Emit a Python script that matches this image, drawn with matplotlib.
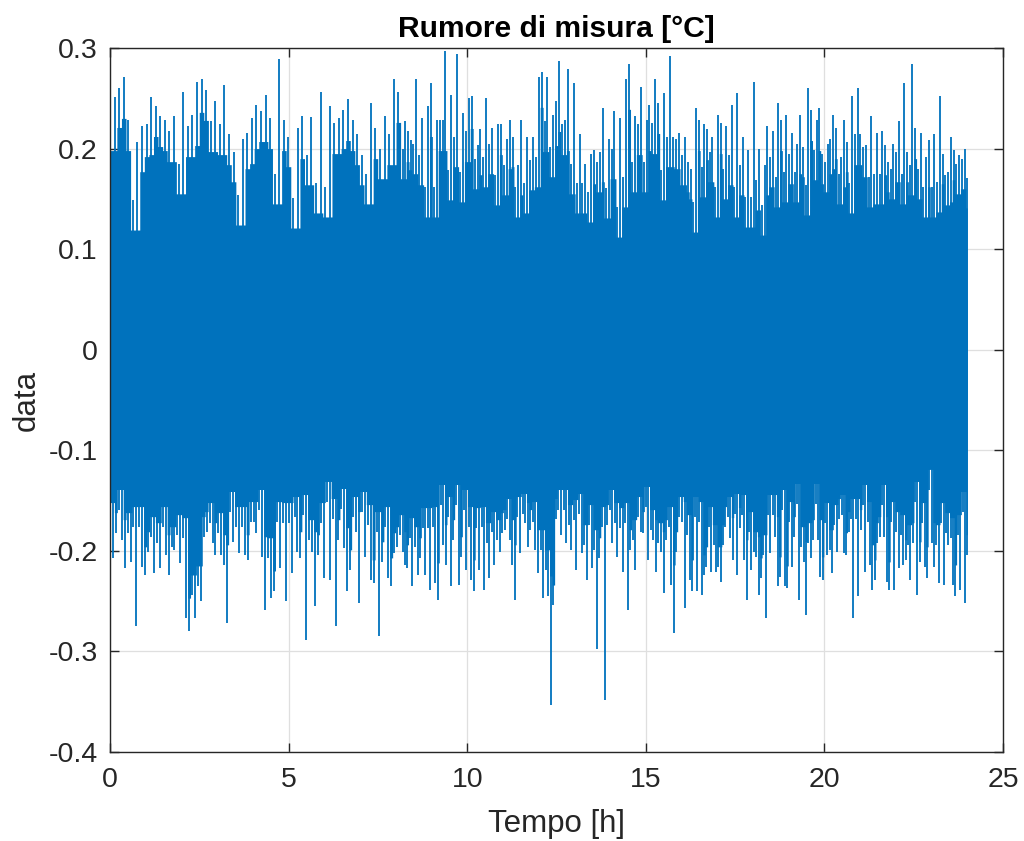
import numpy as np
import pandas as pd
import matplotlib
matplotlib.use("Agg")
import matplotlib.pyplot as plt

# Noise peaks, split into three time windows [h]
SEGMENTS = [(0.0, 8.2), (8.25, 16.0), (16.1, 24.0)]

upper_a = [0.228, 0.251, 0.260, 0.271, 0.228, 0.149, 0.207, 0.222, 0.224, 0.251, 0.242, 0.232, 0.228, 0.217,
           0.232, 0.185, 0.256, 0.222, 0.233, 0.266, 0.269, 0.258, 0.227, 0.247, 0.224, 0.263, 0.214, 0.197,
           0.154, 0.210, 0.215, 0.230, 0.243, 0.237, 0.253, 0.230, 0.175, 0.289, 0.228, 0.212, 0.151, 0.220,
           0.232, 0.194, 0.231, 0.166, 0.256, 0.162, 0.242, 0.225, 0.230, 0.238, 0.249, 0.228, 0.214, 0.194,
           0.175, 0.245, 0.220, 0.200, 0.232, 0.214, 0.269, 0.256, 0.200]
upper_b = [0.227, 0.217, 0.209, 0.205, 0.269, 0.194, 0.230, 0.162, 0.242, 0.265, 0.162, 0.228, 0.228, 0.228,
           0.297, 0.179, 0.253, 0.212, 0.294, 0.177, 0.235, 0.217, 0.250, 0.252, 0.190, 0.204, 0.219, 0.192,
           0.250, 0.205, 0.220, 0.174, 0.224, 0.224, 0.184, 0.210, 0.228, 0.212, 0.162, 0.184, 0.228, 0.166,
           0.212, 0.189, 0.212, 0.192, 0.271, 0.276, 0.227, 0.271, 0.202, 0.233, 0.247, 0.287, 0.224, 0.228,
           0.279, 0.185, 0.265, 0.166, 0.214, 0.166, 0.185, 0.157, 0.195, 0.199, 0.187, 0.197, 0.240, 0.161,
           0.210, 0.200, 0.237, 0.142, 0.230, 0.172, 0.269, 0.284, 0.187, 0.232, 0.224, 0.261, 0.187, 0.228,
           0.243, 0.225, 0.269, 0.245, 0.179, 0.255, 0.212, 0.292, 0.212, 0.210, 0.215, 0.194]
upper_c = [0.212, 0.187, 0.180, 0.147, 0.240, 0.228, 0.182, 0.224, 0.219, 0.197, 0.212, 0.162, 0.233, 0.225,
           0.180, 0.222, 0.194, 0.243, 0.162, 0.255, 0.184, 0.212, 0.152, 0.199, 0.152, 0.266, 0.169, 0.200,
           0.144, 0.184, 0.222, 0.192, 0.217, 0.172, 0.245, 0.228, 0.177, 0.233, 0.195, 0.215, 0.177, 0.205,
           0.233, 0.202, 0.164, 0.260, 0.238, 0.199, 0.228, 0.240, 0.195, 0.187, 0.205, 0.210, 0.233, 0.220,
           0.175, 0.192, 0.228, 0.207, 0.166, 0.252, 0.214, 0.260, 0.214, 0.202, 0.204, 0.172, 0.232, 0.175,
           0.215, 0.175, 0.217, 0.204, 0.187, 0.180, 0.205, 0.197, 0.227, 0.175, 0.265, 0.197, 0.184, 0.284,
           0.220, 0.180, 0.215, 0.162, 0.192, 0.209, 0.162, 0.214, 0.167, 0.252, 0.195, 0.174, 0.177, 0.212,
           0.199, 0.185, 0.194, 0.190, 0.200, 0.171]

lower_a = [-0.172, -0.207, -0.182, -0.159, -0.189, -0.217, -0.182, -0.211, -0.176, -0.275, -0.176, -0.216,
           -0.224, -0.201, -0.186, -0.222, -0.192, -0.217, -0.176, -0.204, -0.224, -0.196, -0.199, -0.184,
           -0.212, -0.187, -0.267, -0.280, -0.244, -0.267, -0.235, -0.250, -0.186, -0.181, -0.172, -0.192,
           -0.204, -0.182, -0.204, -0.214, -0.272, -0.161, -0.191, -0.176, -0.202, -0.176, -0.204, -0.209,
           -0.171, -0.171, -0.182, -0.159, -0.206, -0.259, -0.207, -0.247, -0.240, -0.171, -0.217, -0.172,
           -0.250, -0.172, -0.222, -0.166, -0.201, -0.207, -0.164, -0.289, -0.189, -0.201, -0.255, -0.204,
           -0.172, -0.227, -0.151, -0.229, -0.168, -0.275, -0.189, -0.158, -0.197, -0.240, -0.219, -0.166,
           -0.181, -0.252, -0.161, -0.206, -0.174, -0.229, -0.232, -0.181, -0.285, -0.211, -0.176, -0.227,
           -0.235, -0.202, -0.196, -0.184, -0.201]
lower_b = [-0.214, -0.217, -0.187, -0.235, -0.196, -0.224, -0.207, -0.177, -0.224, -0.177, -0.239, -0.176,
           -0.232, -0.249, -0.154, -0.194, -0.214, -0.166, -0.235, -0.189, -0.154, -0.234, -0.206, -0.159,
           -0.219, -0.176, -0.229, -0.240, -0.177, -0.219, -0.176, -0.239, -0.192, -0.227, -0.181, -0.214,
           -0.189, -0.201, -0.182, -0.179, -0.168, -0.189, -0.214, -0.249, -0.166, -0.202, -0.163, -0.172,
           -0.196, -0.179, -0.171, -0.199, -0.222, -0.199, -0.247, -0.219, -0.245, -0.353, -0.254, -0.168,
           -0.159, -0.184, -0.159, -0.192, -0.174, -0.199, -0.169, -0.219, -0.163, -0.202, -0.194, -0.229,
           -0.174, -0.217, -0.199, -0.298, -0.207, -0.176, -0.348, -0.174, -0.159, -0.192, -0.172, -0.206,
           -0.177, -0.221, -0.172, -0.259, -0.199, -0.189, -0.219, -0.166, -0.181, -0.182, -0.156, -0.209,
           -0.179, -0.189, -0.221, -0.192, -0.201, -0.242, -0.189, -0.176, -0.234, -0.282, -0.201, -0.166,
           -0.171]
lower_c = [-0.257, -0.184, -0.229, -0.240, -0.166, -0.240, -0.171, -0.244, -0.224, -0.216, -0.176, -0.221,
           -0.194, -0.221, -0.216, -0.231, -0.194, -0.176, -0.166, -0.187, -0.209, -0.163, -0.224, -0.177,
           -0.164, -0.209, -0.249, -0.181, -0.219, -0.201, -0.206, -0.244, -0.227, -0.204, -0.267, -0.164,
           -0.202, -0.164, -0.186, -0.235, -0.226, -0.159, -0.235, -0.237, -0.171, -0.216, -0.186, -0.153,
           -0.249, -0.196, -0.211, -0.264, -0.192, -0.207, -0.189, -0.153, -0.189, -0.226, -0.229, -0.172,
           -0.204, -0.199, -0.222, -0.174, -0.201, -0.168, -0.164, -0.202, -0.204, -0.181, -0.168, -0.267,
           -0.168, -0.245, -0.179, -0.154, -0.221, -0.171, -0.214, -0.239, -0.229, -0.192, -0.186, -0.154,
           -0.186, -0.231, -0.239, -0.171, -0.239, -0.181, -0.217, -0.184, -0.214, -0.209, -0.194, -0.229,
           -0.192, -0.151, -0.244, -0.211, -0.172, -0.216, -0.227, -0.139, -0.192, -0.216, -0.194, -0.232,
           -0.172, -0.234, -0.182, -0.194, -0.187, -0.234, -0.245, -0.184, -0.239, -0.161, -0.252, -0.204]

TITLE = "Rumore di misura [°C]"
XLABEL = "Tempo [h]"
YLABEL = "data"
XTICKS = [0, 5, 10, 15, 20, 25]
YTICKS = [-0.4, -0.3, -0.2, -0.1, 0, 0.1, 0.2, 0.3]

BLUE = "#0072BD"
INK = "#262626"
FS_TICK = 20.5
FS_LABEL = 22.5


def series(parts):
    t = np.concatenate([np.linspace(a, b, len(p)) for (a, b), p in zip(SEGMENTS, parts)])
    v = np.concatenate([np.asarray(p, dtype=float) for p in parts])
    return t, v


t_up, up = series([upper_a, upper_b, upper_c])
t_lo, lo = series([lower_a, lower_b, lower_c])

# solid body of the band: the spikes poke out of it, its edge follows
# the lower of two neighbouring peaks
core_top = pd.Series(up).rolling(2, min_periods=1).min().to_numpy() - 0.03
core_bot = pd.Series(lo).rolling(2, min_periods=1).max().to_numpy() + 0.02

plt.rcParams["font.family"] = ["Liberation Sans", "DejaVu Sans"]

fig = plt.figure(figsize=(10.24, 8.41), dpi=100)
ax = fig.add_axes([110 / 1024, 1 - 752 / 841, 893 / 1024, 704 / 841])

ax.fill_between(t_up, -0.05, core_top, step="mid", color=BLUE, lw=0)
ax.fill_between(t_lo, core_bot, 0.05, step="mid", color=BLUE, lw=0)
ax.vlines(t_up, 0, up, color=BLUE, lw=1.3)
ax.vlines(t_lo, lo, 0, color=BLUE, lw=1.3)

ax.set_xlim(0, 25)
ax.set_ylim(-0.4, 0.3)
ax.set_xticks(XTICKS)
ax.set_xticklabels([str(x) for x in XTICKS])
ax.set_yticks(YTICKS)
ax.set_yticklabels([f"{y:g}" for y in YTICKS])

ax.grid(True, color="#dfdfdf", lw=0.9)
ax.set_axisbelow(True)
for s in ax.spines.values():
    s.set_color(INK)
    s.set_linewidth(1.0)
ax.tick_params(direction="in", length=6.5, width=1.0, colors=INK, labelsize=FS_TICK,
               top=True, right=True)
ax.tick_params(axis="x", pad=11)
ax.tick_params(axis="y", pad=9)

ax.set_title(TITLE, fontsize=21.6, fontweight="bold", color="black", pad=8)
ax.set_xlabel(XLABEL, fontsize=FS_LABEL, color=INK, labelpad=11)
ax.set_ylabel(YLABEL, fontsize=FS_LABEL, color=INK, labelpad=5)

fig.savefig("out.png", dpi=100)
